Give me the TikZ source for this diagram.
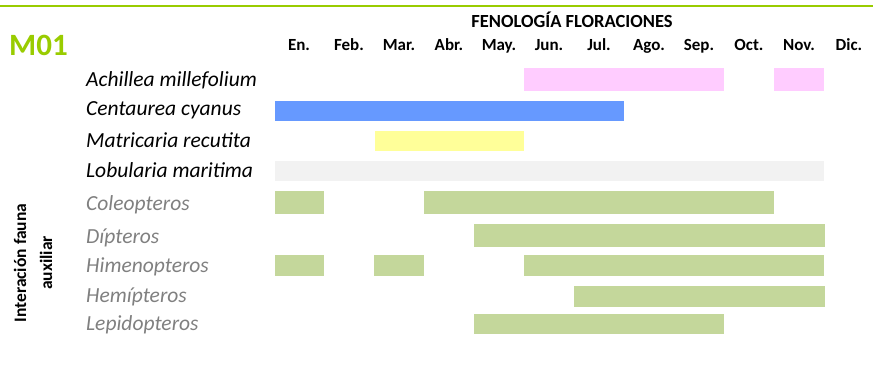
\documentclass[tikz,border=0pt]{standalone}
\usepackage{fontspec}
\setmainfont{Carlito}
\usepackage{tikz}

\definecolor{limegreen}{HTML}{99CC00}
\definecolor{barpink}{HTML}{FFCCFF}
\definecolor{barblue}{HTML}{6699FF}
\definecolor{baryellow}{HTML}{FFFF99}
\definecolor{bargray}{HTML}{F2F2F2}
\definecolor{barolive}{HTML}{C4D79B}
\definecolor{faunagray}{HTML}{808080}

\begin{document}
\begin{tikzpicture}[x=1pt, y=-1pt,
    month/.style={anchor=base, inner sep=0pt, font=\fontsize{17}{19}\selectfont\bfseries},
    plant/.style={anchor=base west, inner sep=0pt, font=\fontsize{21.5}{23}\selectfont\itshape},
    fauna/.style={plant, text=faunagray}]

   \useasboundingbox[fill=white] (0,0) rectangle (873,381);

   \draw[limegreen, line width=2.4pt] (0,6) -- (873,6);

   \node[anchor=base west, inner sep=0pt, text=limegreen,
         font=\fontsize{31}{33}\selectfont\bfseries] (code) at (9,55) {M01};
   \node[month, font=\fontsize{18.5}{20}\selectfont\bfseries] (title) at (572,27.3)
         {FENOLOGÍA FLORACIONES};

   % meses
   \node[month] (en)  at (299,50) {En.};
   \node[month] (feb) at (349,50) {Feb.};
   \node[month] (mar) at (399,50) {Mar.};
   \node[month] (abr) at (449,50) {Abr.};
   \node[month] (may) at (499,50) {May.};
   \node[month] (jun) at (549,50) {Jun.};
   \node[month] (jul) at (599,50) {Jul.};
   \node[month] (ago) at (649,50) {Ago.};
   \node[month] (sep) at (699,50) {Sep.};
   \node[month] (oct) at (749,50) {Oct.};
   \node[month] (nov) at (799,50) {Nov.};
   \node[month] (dic) at (849,50) {Dic.};

   % especies
   \node[plant] (achillea)   at (86,86)  {Achillea millefolium};
   \node[plant] (centaurea)  at (86,115) {Centaurea cyanus};
   \node[plant] (matricaria) at (86,147) {Matricaria recutita};
   \node[plant] (lobularia)  at (86,177) {Lobularia maritima};

   \node[fauna] (coleop) at (86,210) {Coleopteros};
   \node[fauna] (dipter) at (86,243) {Dípteros};
   \node[fauna] (himeno) at (86,272) {Himenopteros};
   \node[fauna] (hemipt) at (86,302) {Hemípteros};
   \node[fauna] (lepido) at (86,330) {Lepidopteros};

   \node[rotate=90, align=center, inner sep=0pt,
         font=\fontsize{17.5}{26}\selectfont\bfseries] (fauna) at (33,263)
         {Interación fauna\\auxiliar};

   % floraciones
   \fill[barpink] (524,68) rectangle (724,91);
   \fill[barpink] (774,68) rectangle (824,91);
   \fill[barblue] (275,101) rectangle (624,121);
   \fill[baryellow] (375,131) rectangle (524,151);
   \fill[bargray] (275,161) rectangle (824,181);

   % fauna auxiliar
   \fill[barolive] (275,191) rectangle (324,213.5);
   \fill[barolive] (424,191) rectangle (774,213.5);
   \fill[barolive] (474,224) rectangle (825,246.5);
   \fill[barolive] (275,255) rectangle (324,275.5);
   \fill[barolive] (374,255) rectangle (424,275.5);
   \fill[barolive] (524,255) rectangle (824,275.5);
   \fill[barolive] (574,286) rectangle (825,306.5);
   \fill[barolive] (474,314) rectangle (724,333.5);

\end{tikzpicture}
\end{document}
